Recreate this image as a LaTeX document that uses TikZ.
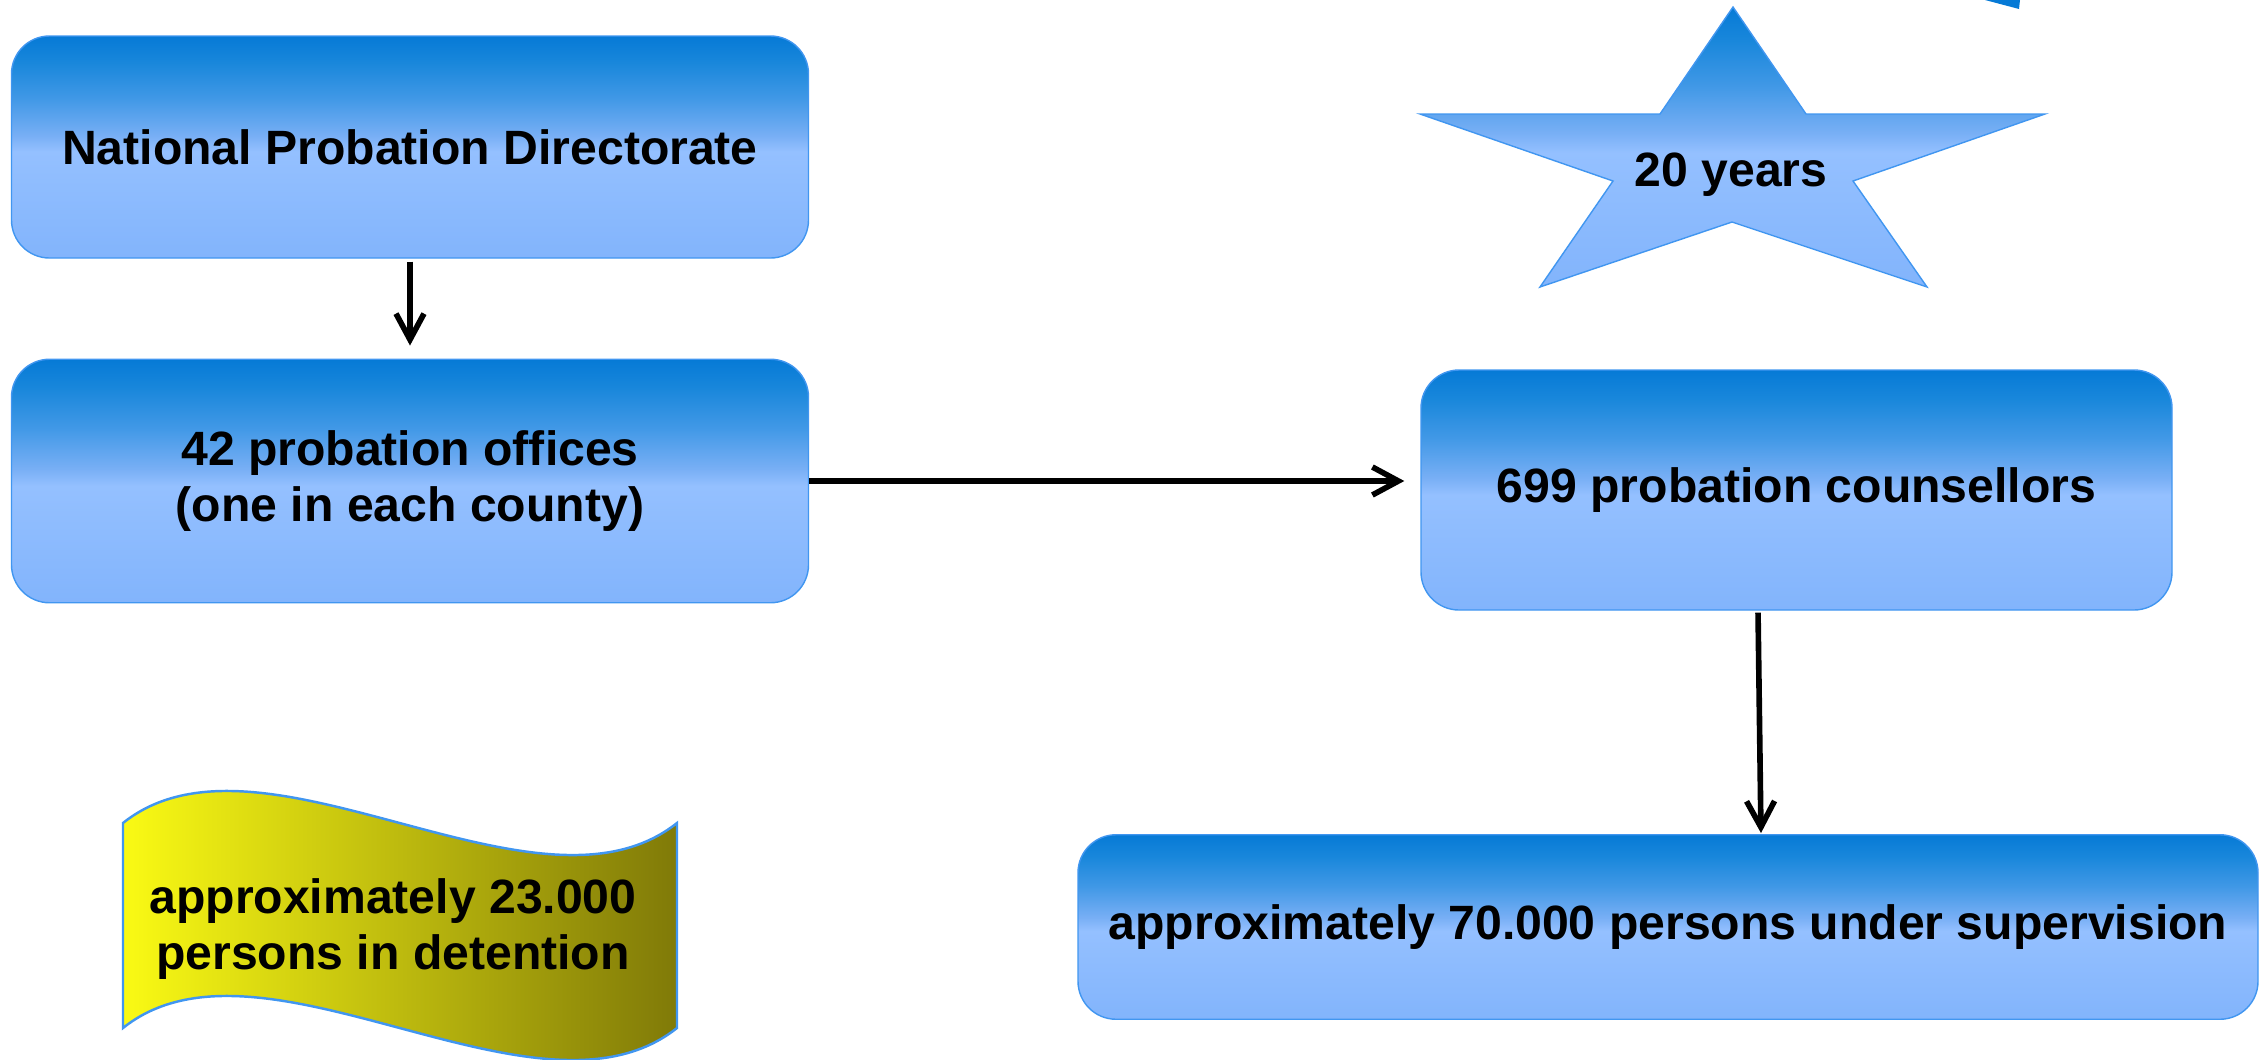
\documentclass[tikz,border=0pt]{standalone}
\usepackage{fontspec}
\setmainfont{Liberation Sans}
\usetikzlibrary{arrows.meta}
\definecolor{boxtop}{RGB}{6,122,214}
\definecolor{boxup}{RGB}{25,135,219}
\definecolor{boxmid}{RGB}{64,152,230}
\definecolor{boxmidb}{RGB}{120,175,245}
\definecolor{boxlight}{RGB}{148,192,255}
\definecolor{boxbot}{RGB}{130,180,252}
\definecolor{boxline}{RGB}{65,150,240}
\definecolor{wavel}{RGB}{250,250,20}
\definecolor{wavem}{RGB}{208,205,10}
\definecolor{waver}{RGB}{128,122,8}
\pgfdeclareverticalshading{boxfill}{100bp}{color(0bp)=(boxbot); color(25bp)=(boxbot); color(49bp)=(boxlight); color(52.5bp)=(boxmidb); color(61bp)=(boxmid); color(69bp)=(boxup); color(75bp)=(boxtop); color(100bp)=(boxtop)}
\begin{document}
\begin{tikzpicture}
                    \tikzstyle{every node}+=[font=\bfseries\fontsize{13.7}{15.9}\selectfont, align=center]
                    \tikzstyle{probbox}=[draw=boxline, line width=0.4pt, shading=boxfill, rounded corners=0.38cm]
                    \tikzstyle{arr}=[-{Straight Barb[length=2.6mm,width=2.8mm]}, line width=1.6pt, black]
                    \useasboundingbox (0,0) rectangle (22.6,-10.59);
                    \fill [boxtop] (19.85,0) -- (20.2,0) -- (20.19,-0.09) -- cycle;
                    \node [probbox, minimum width=7.97cm, minimum height=2.22cm] (dir) at (4.1,-1.47) {National Probation Directorate};
                    \node [probbox, minimum width=7.97cm, minimum height=2.435cm] (offices) at (4.1,-4.81) {42 probation offices\\(one in each county)};
                    \node [probbox, minimum width=7.51cm, minimum height=2.4cm] (counsel) at (17.965,-4.9) {699 probation counsellors};
                    \node [probbox, minimum width=11.8cm, minimum height=1.845cm] (super) at (16.68,-9.27) {approximately 70.000 persons under supervision};
                    \draw [draw=boxline, line width=0.4pt, shading=boxfill] (17.33,-0.07) -- (18.06,-1.14) -- (20.45,-1.14) -- (18.53,-1.81) -- (19.27,-2.87) -- (17.32,-2.22) -- (15.4,-2.87) -- (16.13,-1.81) -- (14.2,-1.14) -- (16.6,-1.14) -- cycle;
                    \node [anchor=base] (years) at (17.31,-1.86) {20 years};
                    \draw [draw=boxline, line width=0.7pt, left color=wavel, middle color=wavem, right color=waver] (1.23,-8.23) .. controls (2.62,-7.12) and (5.37,-9.34) .. (6.77,-8.23) -- (6.77,-10.28) .. controls (5.37,-11.39) and (2.62,-9.17) .. (1.23,-10.28) -- cycle;
                    \node (detention) at (3.93,-9.29) {approximately 23.000\\persons in detention};
                    \draw [arr, shorten <=0.03cm, shorten >=0.13cm] (dir.south) -- (offices.north);
                    \draw [arr, shorten >=0.16cm] (offices.east) -- (offices.east -| counsel.west);
                    \draw [arr, shorten <=0.02cm, shorten >=0.01cm] ([xshift=-3.85mm]counsel.south) -- ([xshift=9.3mm]super.north);
\end{tikzpicture}
\end{document}
